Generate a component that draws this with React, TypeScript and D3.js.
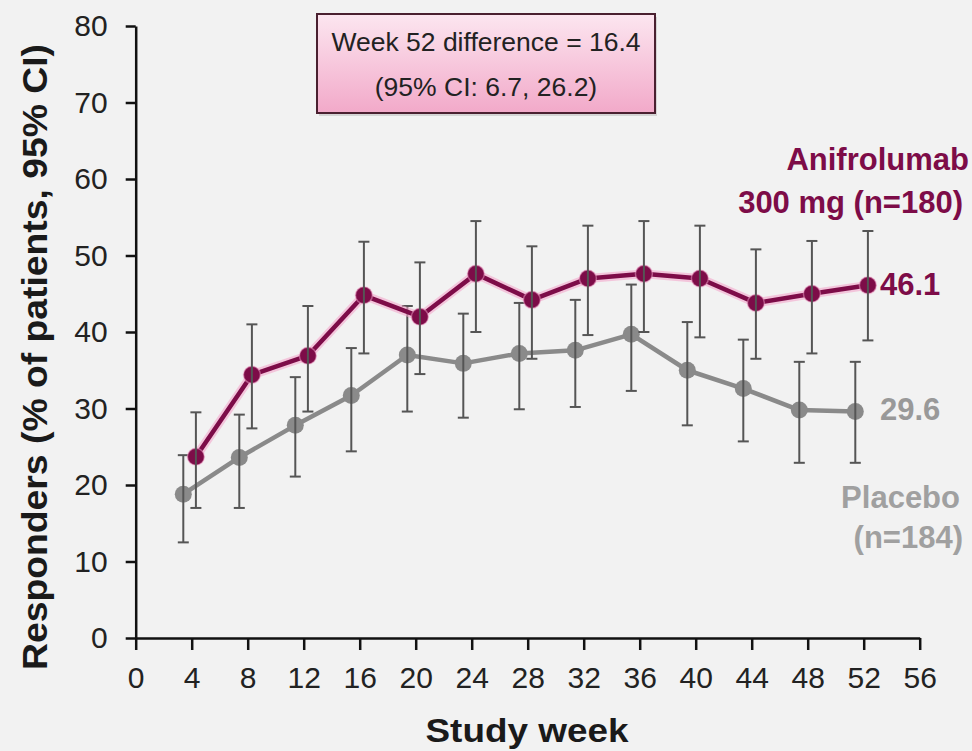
import React, { useEffect, useRef } from 'react'
import * as d3 from 'd3'

// study weeks and responder rates
const weeks = [4, 8, 12, 16, 20, 24, 28, 32, 36, 40, 44, 48, 52]
const anifValues = [23.7, 34.4, 36.9, 44.8, 42.0, 47.6, 44.2, 47.0, 47.6, 47.0, 43.8, 45.0, 46.1]
const anifLower = [17.0, 27.4, 29.6, 37.2, 34.5, 40.0, 36.5, 39.6, 40.0, 39.3, 36.5, 37.2, 38.9]
const anifUpper = [29.5, 41.0, 43.4, 51.8, 49.1, 54.5, 51.2, 53.9, 54.5, 53.9, 50.8, 51.9, 53.2]
const placeboValues = [18.8, 23.6, 27.8, 31.7, 37.0, 35.9, 37.2, 37.6, 39.7, 35.0, 32.6, 29.8, 29.6]
const placeboLower = [12.5, 17.0, 21.1, 24.4, 29.6, 28.8, 29.9, 30.2, 32.3, 27.8, 25.7, 22.9, 22.9]
const placeboUpper = [23.9, 29.2, 34.1, 37.9, 43.4, 42.4, 43.8, 44.2, 46.2, 41.3, 39.0, 36.1, 36.1]
const xTicks = [0, 4, 8, 12, 16, 20, 24, 28, 32, 36, 40, 44, 48, 52, 56]
const yTicks = [0, 10, 20, 30, 40, 50, 60, 70, 80]

const ANIF = '#7d0c48'
const PLACEBO = '#8a8a8a'
const BAR = '#555555'
const FONT = '"Liberation Sans", Arial, sans-serif'

export default function App() {
  const ref = useRef<SVGSVGElement>(null)

  useEffect(() => {
    const svg = d3.select(ref.current)
    svg.selectAll('*').remove()

    const x = d3.scaleLinear().domain([0, 56]).range([135.7, 919.7])
    const y = d3.scaleLinear().domain([0, 80]).range([638, 26])

    svg.append('rect').attr('width', 972).attr('height', 751).attr('fill', '#f2f2f2')

    const defs = svg.append('defs')
    const grad = defs.append('linearGradient').attr('id', 'boxgrad')
      .attr('x1', 0).attr('y1', 0).attr('x2', 0).attr('y2', 1)
    grad.append('stop').attr('offset', '0%').attr('stop-color', '#fce6f0')
    grad.append('stop').attr('offset', '100%').attr('stop-color', '#f2a9c9')

    // axes
    const xAxis = svg.append('g')
      .attr('transform', 'translate(0,' + y(0) + ')')
      .call(d3.axisBottom(x).tickValues(xTicks).tickSize(12).tickPadding(17).tickSizeOuter(0))
    xAxis.select('.domain').attr('stroke', '#111').attr('stroke-width', 2.5)
    xAxis.selectAll('.tick line').attr('stroke', '#111').attr('stroke-width', 2.5)
    xAxis.selectAll('.tick text')
      .attr('fill', '#222')
      .style('font-family', '"Liberation Sans Narrow", "Liberation Sans", Arial, sans-serif')
      .style('font-size', '30px')

    const yAxis = svg.append('g')
      .attr('transform', 'translate(' + x(0) + ',0)')
      .call(d3.axisLeft(y).tickValues(yTicks).tickSize(10).tickPadding(18).tickSizeOuter(0))
    yAxis.select('.domain').attr('stroke', '#111').attr('stroke-width', 2.5)
    yAxis.selectAll('.tick line').attr('stroke', '#111').attr('stroke-width', 2.5)
    yAxis.selectAll('.tick text')
      .attr('fill', '#222')
      .style('font-family', FONT)
      .style('font-size', '30px')

    svg.append('text')
      .attr('transform', 'translate(38,357) rotate(-90)')
      .attr('text-anchor', 'middle')
      .attr('dominant-baseline', 'middle')
      .attr('textLength', 626)
      .attr('lengthAdjust', 'spacingAndGlyphs')
      .style('font-family', FONT)
      .style('font-size', '35px')
      .style('font-weight', 'bold')
      .attr('fill', '#1a1a1a')
      .text('Responders (% of patients, 95% CI)')

    svg.append('text')
      .attr('x', 527)
      .attr('y', 733)
      .attr('text-anchor', 'middle')
      .attr('dominant-baseline', 'middle')
      .attr('textLength', 203)
      .attr('lengthAdjust', 'spacingAndGlyphs')
      .style('font-family', FONT)
      .style('font-size', '34px')
      .style('font-weight', 'bold')
      .attr('fill', '#1a1a1a')
      .text('Study week')

    const series = [
      { name: 'placebo', offset: -0.6, values: placeboValues, lo: placeboLower, hi: placeboUpper, color: PLACEBO, glow: null },
      { name: 'anif', offset: 0.3, values: anifValues, lo: anifLower, hi: anifUpper, color: ANIF, glow: '#f4a6cc' },
    ]

    series.forEach(s => {
      const pts = weeks.map((w, i) => ({ w: w + s.offset, v: s.values[i], lo: s.lo[i], hi: s.hi[i] }))
      const line = d3.line<any>().x(d => x(d.w)).y(d => y(d.v))
      if (s.glow) {
        svg.append('path').datum(pts).attr('d', line)
          .attr('fill', 'none').attr('stroke', s.glow).attr('stroke-width', 9)
          .attr('stroke-linejoin', 'round').attr('opacity', 0.6)
      }
      svg.append('path').datum(pts).attr('d', line)
        .attr('fill', 'none').attr('stroke', s.color).attr('stroke-width', 4.5)
        .attr('stroke-linejoin', 'round')
      svg.selectAll('circle.' + s.name).data(pts).enter().append('circle')
        .attr('class', s.name)
        .attr('cx', d => x(d.w)).attr('cy', d => y(d.v)).attr('r', 8.5)
        .attr('fill', s.color)
        .attr('stroke', s.glow || 'none').attr('stroke-width', s.glow ? 1.5 : 0).attr('stroke-opacity', 0.5)
      const bars = svg.append('g').attr('stroke', BAR).attr('stroke-width', 2)
      pts.forEach(d => {
        bars.append('line').attr('x1', x(d.w)).attr('x2', x(d.w)).attr('y1', y(d.hi)).attr('y2', y(d.lo))
        bars.append('line').attr('x1', x(d.w) - 5.5).attr('x2', x(d.w) + 5.5).attr('y1', y(d.hi)).attr('y2', y(d.hi))
        bars.append('line').attr('x1', x(d.w) - 5.5).attr('x2', x(d.w) + 5.5).attr('y1', y(d.lo)).attr('y2', y(d.lo))
      })
    })

    // end labels
    const lbl = (tx: number, ty: number, str: string, color: string, anchor: string) =>
      svg.append('text').attr('x', tx).attr('y', ty).attr('text-anchor', anchor)
        .attr('dominant-baseline', 'middle')
        .style('font-family', FONT).style('font-size', '31px').style('font-weight', 'bold')
        .attr('fill', color).text(str)
    lbl(880, y(anifValues[12]) + 1, '46.1', ANIF, 'start')
    lbl(880, 412, '29.6', '#999999', 'start')
    lbl(969, 162, 'Anifrolumab', ANIF, 'end')
    lbl(963, 205, '300 mg (n=180)', ANIF, 'end')
    lbl(960, 500, 'Placebo', '#a0a0a0', 'end')
    lbl(963, 540, '(n=184)', '#a0a0a0', 'end')

    // difference box
    svg.append('rect').attr('x', 319).attr('y', 17).attr('width', 338).attr('height', 99)
      .attr('fill', '#000').attr('opacity', 0.12)
    svg.append('rect').attr('x', 317).attr('y', 14).attr('width', 338).attr('height', 99)
      .attr('fill', 'url(#boxgrad)').attr('stroke', '#4a2030').attr('stroke-width', 2)
    svg.append('text').attr('x', 486).attr('y', 51).attr('text-anchor', 'middle')
      .style('font-family', FONT).style('font-size', '26.5px').attr('fill', '#222')
      .text('Week 52 difference = 16.4')
    svg.append('text').attr('x', 486).attr('y', 96).attr('text-anchor', 'middle')
      .style('font-family', FONT).style('font-size', '26.5px').attr('fill', '#222')
      .text('(95% CI: 6.7, 26.2)')
  }, [])

  return (
    <svg ref={ref} width={972} height={751}
      style={{ position: 'absolute', left: 0, top: 0, display: 'block' }} />
  )
}
